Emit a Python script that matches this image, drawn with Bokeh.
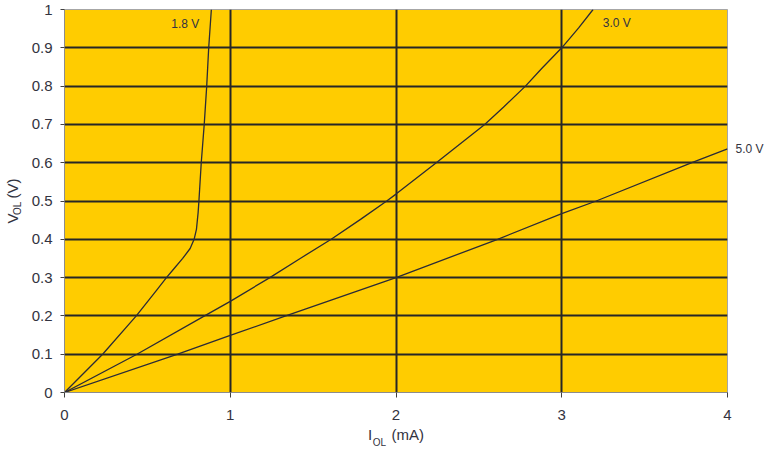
import math
from bokeh.plotting import figure
from bokeh.models import Range1d, FixedTicker, NumeralTickFormatter, Label, LinearAxis
from bokeh.embed import file_html
from bokeh.resources import INLINE

# ---- data ----
i_18 = [0.0, 0.23, 0.433, 0.561, 0.615, 0.664, 0.713, 0.758, 0.782, 0.796, 0.806, 0.811, 0.825, 0.843, 0.858, 0.870, 0.886]
v_18 = [0.0, 0.10, 0.20, 0.27, 0.30, 0.325, 0.35, 0.376, 0.40, 0.426, 0.469, 0.50, 0.60, 0.70, 0.80, 0.90, 1.00]

i_30 = [0.0, 0.437, 0.845, 1.0, 1.239, 1.422, 1.609, 1.786, 1.944, 2.0, 2.243, 2.535, 2.648, 2.781, 2.879, 3.0, 3.102, 3.189]
v_30 = [0.0, 0.10, 0.20, 0.238, 0.30, 0.35, 0.40, 0.452, 0.50, 0.518, 0.60, 0.70, 0.745, 0.80, 0.846, 0.90, 0.952, 1.00]

i_50 = [0.0, 0.683, 1.0, 1.335, 2.0, 2.613, 3.0, 3.208, 3.785, 4.0]
v_50 = [0.0, 0.10, 0.149, 0.20, 0.30, 0.40, 0.467, 0.50, 0.60, 0.636]

x_ticks = [0, 1, 2, 3, 4]
y_ticks = [0, 0.1, 0.2, 0.3, 0.4, 0.5, 0.6, 0.7, 0.8, 0.9, 1.0]
x_grid = [1, 2, 3]
y_grid = [0.1, 0.2, 0.3, 0.4, 0.5, 0.6, 0.7, 0.8, 0.9]
curve_names = ["1.8 V", "3.0 V", "5.0 V"]
x_title = "I\u2002\u2002\u00a0(mA)"
y_title = "V\u2002\u2002(V)"
sub_text = "OL"

FONT = "Liberation Sans"
TXT = "#333340"
CURVE = "#2b2b36"

p = figure(width=766, height=450, output_backend="svg", toolbar_location=None,
           title=None, x_range=Range1d(0, 4), y_range=Range1d(0, 1),
           min_border_left=59, min_border_right=38, min_border_top=9, min_border_bottom=58)

p.background_fill_color = "#FFCC00"
p.border_fill_color = "white"
p.outline_line_color = "#a6a6a6"
p.outline_line_width = 1

# grid
p.xgrid.ticker = FixedTicker(ticks=x_grid)
p.ygrid.ticker = FixedTicker(ticks=y_grid)
for g in (p.xgrid, p.ygrid):
    g.grid_line_color = "#262626"
    g.grid_line_width = 2
    g.grid_line_alpha = 1

# main axes
p.xaxis.ticker = FixedTicker(ticks=x_ticks)
p.yaxis.ticker = FixedTicker(ticks=y_ticks)
p.yaxis.formatter = NumeralTickFormatter(format="0.[0]")
for ax in (p.xaxis, p.yaxis):
    ax.axis_line_color = "#8c8c8c"
    ax.major_tick_line_color = "#404040"
    ax.minor_tick_line_color = None
    ax.major_tick_in = 0
    ax.major_label_text_font = FONT
    ax.major_label_text_font_size = "15px"
    ax.major_label_text_color = TXT
    ax.axis_label_text_font = FONT
    ax.axis_label_text_font_size = "15px"
    ax.axis_label_text_font_style = "normal"
    ax.axis_label_text_color = TXT
p.xaxis.major_tick_out = 5
p.xaxis.major_label_standoff = 12
p.xaxis.axis_label = x_title
p.xaxis.axis_label_standoff = 3
p.yaxis.major_tick_out = 4
p.yaxis.major_label_standoff = 8


def text_axis(ticks, labels, size, standoff, orientation="horizontal"):
    a = LinearAxis(ticker=FixedTicker(ticks=ticks),
                   major_label_overrides=dict(zip(ticks, labels)))
    a.axis_line_color = None
    a.major_tick_line_color = None
    a.minor_tick_line_color = None
    a.major_tick_in = 0
    a.major_tick_out = 0
    a.minor_tick_in = 0
    a.minor_tick_out = 0
    a.major_label_standoff = standoff
    a.major_label_orientation = orientation
    a.major_label_text_font = FONT
    a.major_label_text_font_size = size
    a.major_label_text_color = TXT
    return a


# subscript of I_OL (below the main x axis)
p.add_layout(text_axis([1.9], [sub_text], "10px", -9), "below")

# subscript of V_OL and the y title (left of the main y axis)
p.add_layout(text_axis([0.481], [sub_text], "10px", 5, "parallel"), "left")
ytitle_axis = text_axis([], [], "15px", 0)
ytitle_axis.axis_label = y_title
ytitle_axis.axis_label_standoff = -11
ytitle_axis.axis_label_text_font = FONT
ytitle_axis.axis_label_text_font_size = "15px"
ytitle_axis.axis_label_text_font_style = "normal"
ytitle_axis.axis_label_text_color = TXT
p.add_layout(ytitle_axis, "left")

# "5.0 V" label beside the right edge
p.add_layout(text_axis([0.636], [curve_names[2]], "12px", 8), "right")

# curves
p.line(i_18, v_18, line_color=CURVE, line_width=1.3)
p.line(i_30, v_30, line_color=CURVE, line_width=1.3)
p.line(i_50, v_50, line_color=CURVE, line_width=1.3)

# curve labels inside the plot area
label_pos = [(0.644, 0.962), (3.248, 0.966)]
for name, (lx, ly) in zip(curve_names[:2], label_pos):
    p.add_layout(Label(x=lx, y=ly, text=name, text_font=FONT, text_font_size="12px",
                       text_color=TXT, text_baseline="middle", text_align="left"))

open("out.html", "w").write(file_html(p, INLINE))
